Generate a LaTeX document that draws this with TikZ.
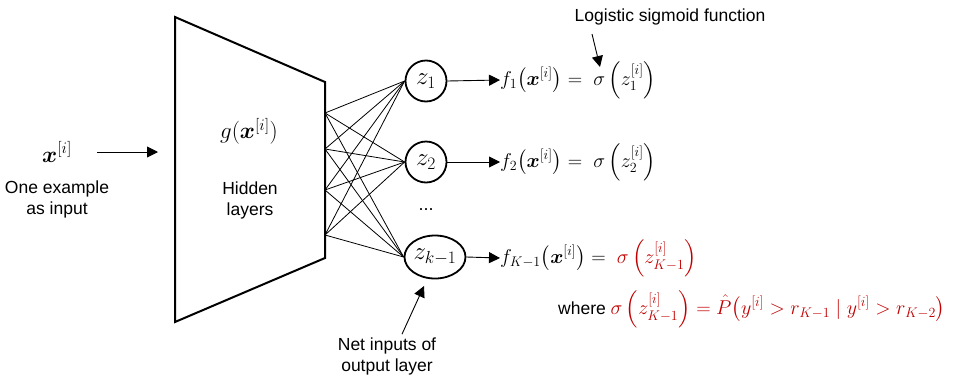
\RequirePackage{fix-cm}
\documentclass[tikz,border=0pt]{standalone}
\usepackage{amsmath,bm}
\usepackage{fontspec}
\setmainfont{Liberation Sans}
\usetikzlibrary{arrows.meta,shapes.geometric}
\definecolor{eqred}{RGB}{192,0,0}
\tikzset{
  lbl/.style={font=\fontsize{17.5}{21}\selectfont, align=center, inner sep=0pt},
  eq/.style={font=\fontsize{20}{23}\selectfont, inner sep=0pt, anchor=west},
  unit/.style={draw, line width=1.8pt, inner sep=0pt, font=\fontsize{25}{27}\selectfont},
  wire/.style={line width=0.8pt},
  arr/.style={line width=0.9pt, -{Triangle[length=11pt,width=11pt]}},
}
\begin{document}
\begin{tikzpicture}[x=1pt,y=-1pt]
\useasboundingbox (0,0) rectangle (963,381);
% trapezoid
\draw[line width=2pt] (175,17) -- (325,82) -- (325,258) -- (175,322) -- cycle;
\coordinate (c1) at (325,113);
\coordinate (c2) at (325,149);
\coordinate (c3) at (325,190);
\coordinate (c4) at (325,235);
\coordinate (trapin) at (158,152);
% nodes
\node[unit, circle, minimum size=41pt] (z1) at (426,81) {$z_1$};
\node[unit, circle, minimum size=41pt] (z2) at (426,162) {$z_2$};
\node[unit, ellipse, minimum width=61pt, minimum height=43pt, inner sep=-3pt] (zk) at (435,257) {$z_{k-1}$};
\node[font=\fontsize{18}{20}\selectfont] (dots) at (426,210) {...};
% wires
\foreach \c in {c1,c2,c3,c4}{
  \foreach \z in {z1,z2,zk}{
    \draw[wire] (\c) -- (\z.west);
  }
}
% input
\node[font=\fontsize{23}{26}\selectfont, inner sep=0pt] (x) at (57,152) {$\bm{x}^{[i]}$};
\node[lbl] (inlbl) at (57,199) {One example\\as input};
\draw[arr] (97,152) -- (trapin);
% hidden
\node[font=\fontsize{23}{26}\selectfont, inner sep=0pt] (g) at (249,131) {$g(\bm{x}^{[i]})$};
\node[lbl] (hid) at (250,200) {Hidden\\layers};
% equations
\node[eq] (f1) at (500,80) {$f_1\bigl(\bm{x}^{[i]}\bigr) =\ \sigma\left(z_1^{[i]}\right)$};
\node[eq] (f2) at (500,162) {$f_2\bigl(\bm{x}^{[i]}\bigr) =\ \sigma\left(z_2^{[i]}\right)$};
\node[eq] (fk) at (500,258) {$f_{K-1}\bigl(\bm{x}^{[i]}\bigr) =\ \color{eqred}\sigma\left(z_{K-1}^{[i]}\right)$};
\node[eq] (where) at (558,309) {\fontsize{17.5}{20}\selectfont where\ \fontsize{20}{23}\selectfont$\color{eqred}\sigma\left(z_{K-1}^{[i]}\right) = \hat{P}\bigl(y^{[i]} > r_{K-1} \mid y^{[i]} > r_{K-2}\bigr)$};
\draw[arr] (z1.east) -- (f1.west);
\draw[arr] (z2.east) -- (f2.west);
\draw[arr] (zk.east) -- (fk.west);
% annotations
\node[lbl] (logi) at (670,17) {Logistic sigmoid function};
\coordinate (sig) at (600,67);
\draw[arr] (592,34) -- (sig);
\node[lbl] (net) at (387,356) {Net inputs of\\output layer};
\coordinate (zkin) at (424,286);
\draw[arr] (net.north -| 402,0) ++(0,-3) -- (zkin);
\end{tikzpicture}
\end{document}
